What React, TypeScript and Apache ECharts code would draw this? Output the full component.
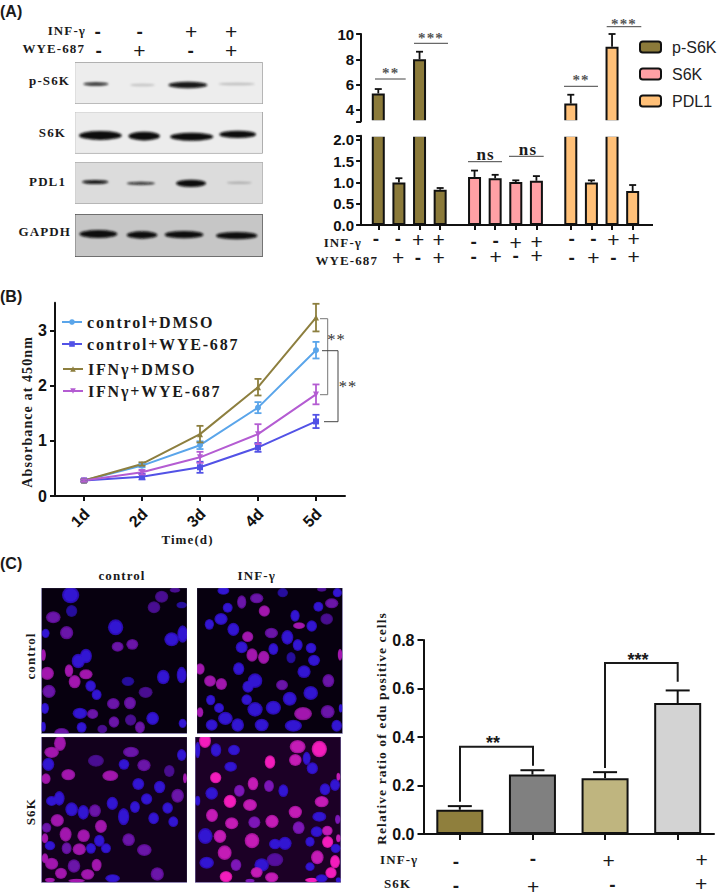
import React, { useEffect, useRef } from "react";
import * as echarts from "echarts";

// ---------- data ----------
const signsInf = ["-", "-", "+", "+"];
const signsWye = ["-", "+", "-", "+"];
const proteins = ["p-S6K", "S6K", "PDL1"];
const pS6K = [5.3, 1.0, 8.0, 0.83];
const pS6KErr = [0.35, 0.1, 0.6, 0.04];
const s6k = [1.13, 1.1, 1.01, 1.04];
const s6kErr = [0.15, 0.08, 0.04, 0.11];
const pdl1 = [4.5, 1.0, 9.0, 0.8];
const pdl1Err = [0.7, 0.05, 1.0, 0.14];

const days = ["1d", "2d", "3d", "4d", "5d"];
const ctrlDmso = [0.28, 0.55, 0.92, 1.6, 2.64];
const ctrlDmsoErr = [0.02, 0.03, 0.07, 0.1, 0.15];
const ctrlWye = [0.28, 0.35, 0.52, 0.88, 1.35];
const ctrlWyeErr = [0.02, 0.05, 0.1, 0.08, 0.12];
const ifnDmso = [0.28, 0.58, 1.12, 1.97, 3.23];
const ifnDmsoErr = [0.02, 0.03, 0.15, 0.15, 0.25];
const ifnWye = [0.28, 0.43, 0.7, 1.12, 1.84];
const ifnWyeErr = [0.02, 0.04, 0.1, 0.18, 0.18];

const eduGroups = ["ctrl", "S6K", "INF", "INF+S6K"];
const eduValues = [0.1, 0.245, 0.23, 0.54];
const eduErr = [0.015, 0.018, 0.025, 0.052];
const eduSignsInf = ["-", "-", "+", "+"];
const eduSignsS6k = ["-", "+", "-", "+"];

// ---------- picture panels (drawn as images; coordinates are in 3x crop pixels) ----------
type Cell = [number, number, number, number, number];
const cellsTL: Cell[] = [[212,135,26,25,1],[215,183,17,18,0],[160,202,22,18,2],[200,248,20,20,2],[137,250,12,14,1],[347,232,23,24,1],[353,290,18,15,2],[397,283,18,16,2],[515,268,22,21,1],[548,252,16,26,1],[462,172,19,18,5],[485,140,20,18,5],[545,165,16,10,0],[525,120,16,8,5],[130,315,8,18,3],[258,318,18,22,1],[235,333,20,22,1],[207,362,13,19,3],[258,373,20,15,3],[224,395,18,20,3],[142,370,20,20,3],[147,424,20,20,2],[272,408,16,17,1],[290,434,15,16,1],[490,381,19,22,1],[384,394,19,14,0],[545,375,15,25,1],[437,427,21,17,5],[340,461,19,17,2],[390,459,18,19,2],[135,475,12,17,1],[240,490,22,17,1],[278,492,17,15,2],[342,516,16,17,2],[392,510,17,17,5],[458,505,19,20,1],[420,532,15,18,2],[245,532,15,16,1],[185,548,22,14,2],[307,537,15,13,5],[130,530,8,15,1],[548,520,12,14,1]];
const cellsTR: Cell[] = [[670,122,18,12,1],[725,156,14,20,2],[770,145,20,15,2],[793,183,17,17,3],[848,128,16,14,0],[683,173,15,15,1],[663,207,20,18,1],[628,223,14,16,1],[700,238,18,20,1],[743,260,17,16,3],[814,249,20,16,2],[897,227,18,10,3],[885,197,14,18,1],[935,228,16,17,1],[980,207,19,17,5],[995,160,20,15,2],[955,170,15,15,1],[1012,128,14,14,1],[965,118,14,7,5],[862,262,18,22,1],[893,285,15,18,1],[725,292,18,18,1],[756,315,17,20,3],[791,322,17,20,3],[820,297,15,18,1],[873,323,14,17,0],[933,294,16,16,1],[942,331,18,17,1],[1020,314,7,18,3],[600,357,14,17,3],[630,393,18,17,3],[664,402,17,18,3],[716,356,17,19,1],[912,365,20,19,1],[985,392,18,20,2],[765,392,22,22,1],[744,410,17,18,1],[846,405,18,16,2],[932,429,22,21,1],[869,446,21,21,1],[632,450,14,16,1],[740,449,16,16,1],[765,478,23,22,1],[820,473,23,21,1],[657,474,15,15,1],[676,505,22,20,1],[713,525,19,20,1],[785,525,21,19,1],[600,487,10,15,3],[635,525,18,17,1],[909,491,27,20,3],[983,485,21,20,2],[880,527,26,18,1],[1010,527,16,18,1],[1022,475,6,13,1]];
const cellsBL: Cell[] = [[155,607,22,17,3],[180,580,18,23,3],[145,643,18,20,1],[288,632,24,18,5],[393,606,24,16,2],[372,643,16,16,1],[432,646,20,18,2],[205,674,21,17,3],[138,686,14,16,3],[331,677,24,16,3],[415,702,18,18,1],[479,711,17,19,1],[508,663,16,18,5],[545,615,14,18,1],[555,685,6,15,3],[533,737,19,21,2],[178,745,16,22,1],[155,753,17,15,1],[440,747,17,17,1],[337,760,17,20,1],[405,771,15,18,1],[503,774,16,17,1],[520,815,15,16,1],[215,778,19,21,1],[250,787,17,22,1],[285,782,18,19,2],[371,800,17,26,1],[461,805,16,18,1],[172,811,20,19,3],[140,833,14,15,2],[197,853,18,22,3],[251,857,19,19,3],[303,829,18,20,3],[135,865,10,15,3],[150,887,16,14,1],[200,895,15,18,2],[238,898,20,18,3],[273,895,15,16,1],[298,872,16,18,1],[318,895,15,15,1],[386,869,19,19,2],[433,900,22,18,2],[155,941,20,18,3],[222,948,19,20,2],[290,945,15,19,3],[183,970,18,17,3],[263,973,20,16,3],[472,972,20,20,2],[338,985,22,12,1],[230,992,25,6,3],[135,925,10,15,3],[150,990,15,7,3]];
const cellsBR: Cell[] = [[615,572,18,22,4],[648,600,16,20,1],[702,600,18,16,1],[593,600,8,25,1],[810,636,16,20,4],[893,590,24,20,3],[886,630,19,18,3],[958,597,23,25,4],[920,625,12,20,1],[937,655,17,18,1],[692,650,19,15,1],[647,683,17,17,4],[635,730,19,19,1],[718,722,16,18,2],[759,701,16,20,3],[807,708,15,18,2],[850,722,15,19,1],[975,718,16,18,1],[1005,705,15,18,1],[1015,680,6,12,3],[690,754,19,20,4],[750,765,21,18,3],[965,755,21,17,3],[593,752,8,15,1],[636,796,18,20,3],[886,786,20,19,3],[695,820,20,18,3],[763,817,18,18,2],[816,814,20,20,3],[958,800,21,15,1],[1013,808,8,14,2],[896,833,18,19,2],[950,845,18,16,1],[982,842,16,15,3],[983,876,17,18,4],[616,858,22,24,1],[660,859,19,20,3],[756,872,22,23,3],[825,882,18,16,1],[855,880,20,20,1],[930,875,14,15,1],[1015,865,7,12,3],[674,908,21,22,3],[825,929,25,20,5],[952,922,19,21,3],[620,938,22,18,1],[708,945,16,18,2],[1005,935,15,20,4],[1007,895,15,14,1],[785,945,22,20,1],[770,967,18,16,3],[815,982,20,15,3],[678,980,19,17,4],[930,950,14,13,1],[993,968,17,17,4],[935,990,20,7,4],[965,985,18,12,1],[750,992,14,6,2],[1015,990,8,8,1]];

type Band = [number, number, number, number, number];
const bandsP: Band[] = [[250,325,252,11,0.85],[390,465,255,8,0.18],[505,622,255,20,0.95],[655,765,252,8,0.2]];
const bandsS: Band[] = [[237,365,406,27,1],[385,480,408,26,1],[510,640,410,24,1],[658,768,403,22,1]];
const bandsL: Band[] = [[246,325,546,12,0.95],[380,465,550,10,0.8],[528,618,550,22,1],[680,755,548,6,0.25]];
const bandsG: Band[] = [[238,352,702,24,1],[380,472,705,22,1],[494,610,704,22,1],[648,772,707,22,1]];

const paletteDim = ["#260e9e", "#3212d2", "#6a12a8", "#a216ae", "#d41ab8", "#4a0f92"];
const paletteBright = ["#260e9e", "#3212d2", "#7d14b8", "#c41ab6", "#f41cbc", "#55109f"];

function svgUrl(svg: string) {
  return "data:image/svg+xml;charset=utf-8," + encodeURIComponent(svg);
}
function cellPanel(cells: Cell[], x: number, y: number, bg: string, palette: string[]) {
  const grads = palette
    .map(
      (c, i) =>
        `<radialGradient id="g${i}"><stop offset="0" stop-color="${c}"/><stop offset="0.7" stop-color="${c}"/><stop offset="1" stop-color="${c}" stop-opacity="0.7"/></radialGradient>`
    )
    .join("");
  const els = cells
    .map(([cx, cy, rx, ry, k]) => `<ellipse cx="${cx}" cy="${cy}" rx="${rx}" ry="${ry}" fill="url(#g${k})"/>`)
    .join("");
  return svgUrl(
    `<svg xmlns="http://www.w3.org/2000/svg" width="146" height="146" viewBox="${x} ${y} 438 438"><defs>${grads}<filter id="b" x="-5%" y="-5%" width="110%" height="110%"><feGaussianBlur stdDeviation="2.2"/></filter></defs><rect x="${x}" y="${y}" width="438" height="438" fill="${bg}"/><g filter="url(#b)">${els}</g><rect x="${x}" y="${y}" width="438" height="438" fill="none" stroke="#9c94d8" stroke-width="2.5"/></svg>`
  );
}
function blot(bands: Band[], y: number, h: number, bg: string, edge: string, ew: number) {
  const els = bands
    .map(
      ([a, b, c, t, o]) =>
        `<ellipse cx="${(a + b) / 2}" cy="${c}" rx="${(b - a) / 2}" ry="${t / 2}" fill="#0a0a0a" opacity="${o}"/>`
    )
    .join("");
  return svgUrl(
    `<svg xmlns="http://www.w3.org/2000/svg" width="188" height="${h / 3}" viewBox="224 ${y} 564 ${h}"><defs><filter id="b" x="-10%" y="-80%" width="120%" height="260%"><feGaussianBlur stdDeviation="2.4"/></filter></defs><rect x="224" y="${y}" width="564" height="${h}" fill="${bg}"/><g filter="url(#b)">${els}</g><rect x="224" y="${y}" width="564" height="${h}" fill="none" stroke="${edge}" stroke-width="${ew}"/></svg>`
  );
}

const serif = "Liberation Serif";
const sans = "Liberation Sans";
const ink = "#1a1a1a";

function txt(text: string, x: number, y: number, o: any = {}) {
  const { rotation, ...rest } = o;
  return {
    type: "text",
    x,
    y,
    rotation,
    z: 20,
    style: {
      text,
      fill: ink,
      fontFamily: serif,
      fontWeight: "bold",
      fontSize: 13,
      textAlign: "center",
      textVerticalAlign: "middle",
      ...rest,
    },
  };
}
function sign(s: string, x: number, y: number) {
  return s === "+"
    ? txt(s, x, y, { fontFamily: sans, fontWeight: "normal", fontSize: 21, lineHeight: 10 })
    : txt(s, x, y, { fontFamily: sans, fontWeight: "bold", fontSize: 19, lineHeight: 6 });
}
function poly(points: number[][], stroke = "#222", lineWidth = 1) {
  return { type: "polyline", z: 20, shape: { points }, style: { stroke, lineWidth, fill: "none" } };
}
function img(image: string, x: number, y: number, width: number, height: number) {
  return { type: "image", x, y, z: 1, style: { image, width, height } };
}

const errBar = (name: string, xi: number, yi: number, rows: number[][], color: string, cap: number, lw: number, both: boolean) => ({
  type: "custom",
  name,
  xAxisIndex: xi,
  yAxisIndex: yi,
  z: 5,
  silent: true,
  encode: { x: 0, y: 1 },
  data: rows,
  renderItem: (_p: any, api: any) => {
    const i = api.value(0);
    const v = api.value(1);
    const e = api.value(2);
    const [x] = api.coord([i, v]);
    const [, yt] = api.coord([i, v + e]);
    const [, yb] = api.coord([i, both ? v - e : v]);
    const s = { stroke: color, lineWidth: lw, fill: "none" };
    const ch: any[] = [
      { type: "line", shape: { x1: x, y1: yb, x2: x, y2: yt }, style: s },
      { type: "line", shape: { x1: x - cap, y1: yt, x2: x + cap, y2: yt }, style: s },
    ];
    if (both) ch.push({ type: "line", shape: { x1: x - cap, y1: yb, x2: x + cap, y2: yb }, style: s });
    return { type: "group", children: ch };
  },
});

export default function App() {
  const ref = useRef<HTMLDivElement>(null);
  useEffect(() => {
    const chart = echarts.init(ref.current!, undefined, { renderer: "svg" });

    // Panel A: slot-based category axis so the groups keep their gaps
    const groups = [pS6K, s6k, pdl1];
    const groupErr = [pS6KErr, s6kErr, pdl1Err];
    const colorsA = ["#8b7a3a", "#ffa0a5", "#ffc078"];
    const slotCount = 42;
    const slotOf = (g: number, b: number) => 2 + g * 14 + b * 3;
    const slots = Array.from({ length: slotCount }, (_, i) => String(i));
    const barSlots = new Set<number>();
    groups.forEach((vals, g) => vals.forEach((_, b) => barSlots.add(slotOf(g, b))));
    const UPPER_MIN = 3.1;
    const LOWER_MAX = 2.1;

    const seriesA: any[] = [];
    groups.forEach((vals, g) => {
      const mk = (xi: number, keep: (v: number) => boolean) => {
        const d = slots.map(() => null as number | null);
        vals.forEach((v, b) => {
          if (keep(v)) d[slotOf(g, b)] = v;
        });
        return {
          type: "bar",
          name: proteins[g],
          xAxisIndex: xi,
          yAxisIndex: xi,
          barWidth: 13,
          barGap: "-100%",
          data: d,
          itemStyle: { color: colorsA[g], borderColor: "#111", borderWidth: 2 },
        };
      };
      seriesA.push(mk(0, (v) => v > UPPER_MIN));
      seriesA.push(mk(1, () => true));
      const rowsU: number[][] = [];
      const rowsL: number[][] = [];
      vals.forEach((v, b) => {
        (v > UPPER_MIN ? rowsU : rowsL).push([slotOf(g, b), v, groupErr[g][b]]);
      });
      seriesA.push(errBar(proteins[g] + " err up", 0, 0, rowsU, "#111", 3.5, 1.8, false));
      seriesA.push(errBar(proteins[g] + " err low", 1, 1, rowsL, "#111", 3.5, 1.8, false));
    });

    // Panel B
    const linesB = [
      { name: "control+DMSO", d: ctrlDmso, e: ctrlDmsoErr, c: "#5aa5ea", sym: "circle", rot: 0 },
      { name: "control+WYE-687", d: ctrlWye, e: ctrlWyeErr, c: "#5252e6", sym: "rect", rot: 0 },
      { name: "IFNγ+DMSO", d: ifnDmso, e: ifnDmsoErr, c: "#8d7f3f", sym: "triangle", rot: 0 },
      { name: "IFNγ+WYE-687", d: ifnWye, e: ifnWyeErr, c: "#b45cd2", sym: "triangle", rot: 180 },
    ];
    const seriesB: any[] = [];
    linesB.forEach((l) => {
      seriesB.push({
        type: "line",
        name: l.name,
        xAxisIndex: 2,
        yAxisIndex: 2,
        data: l.d,
        symbol: l.sym,
        symbolRotate: l.rot,
        symbolSize: 6,
        lineStyle: { color: l.c, width: 2 },
        itemStyle: { color: l.c },
      });
      seriesB.push(errBar(l.name + " err", 2, 2, l.d.map((v, i) => [i, v, l.e[i]]), l.c, 3.5, 1.8, true));
    });
    const legendPos = [
      [61, 314],
      [61, 336],
      [62, 361],
      [62, 383],
    ];

    // Panel C
    const colorsC = ["#8f7f3d", "#808080", "#bfb57f", "#d3d3d3"];

    const graphics: any[] = [
      txt("(A)", 0, 11, { fontFamily: sans, fontSize: 16, textAlign: "left" }),
      txt("(B)", 0, 296, { fontFamily: sans, fontSize: 16, textAlign: "left" }),
      txt("(C)", 0, 563, { fontFamily: sans, fontSize: 16, textAlign: "left" }),

      // blots
      img(blot(bandsP, 187, 125, "#ededed", "#777", 2.5), 74.7, 62.3, 188, 41.7),
      img(blot(bandsS, 335, 125, "#ececec", "#666", 2.5), 74.7, 111.7, 188, 41.7),
      img(blot(bandsL, 486, 125, "#dcdcdc", "#888", 2.5), 74.7, 162, 188, 41.7),
      img(blot(bandsG, 642, 129, "#c6c6c6", "#333", 3.5), 74.7, 214, 188, 43),
      txt("INF-γ", 86, 30, { textAlign: "right" }),
      txt("WYE-687", 85, 48, { textAlign: "right" }),
      txt("p-S6K", 70, 80, { textAlign: "right" }),
      txt("S6K", 66, 132, { textAlign: "right" }),
      txt("PDL1", 66, 181, { textAlign: "right" }),
      txt("GAPDH", 71, 231, { textAlign: "right" }),

      // panel A significance
      poly([[375, 79], [405.7, 79]], "#444"),
      poly([[414, 43.3], [448, 43.3]], "#444"),
      poly([[468, 161.7], [502, 161.7]], "#444"),
      poly([[509, 156.3], [543.7, 156.3]], "#444"),
      poly([[564, 86.3], [598, 86.3]], "#444"),
      poly([[606.7, 26.7], [641.3, 26.7]], "#444"),
      txt("**", 390.7, 73, { fontSize: 15, fill: "#555" }),
      txt("***", 431, 38, { fontSize: 15, fill: "#555" }),
      txt("**", 581, 80, { fontSize: 15, fill: "#555" }),
      txt("***", 624, 24, { fontSize: 15, fill: "#555" }),
      txt("ns", 485.7, 154, { fontSize: 17 }),
      txt("ns", 528, 149, { fontSize: 17 }),
      poly([[650, 225], [653, 225]], "#111", 2),
      // gap of the broken axis
      { type: "rect", z: 15, shape: { x: 365, y: 120.2, width: 285, height: 16.6 }, style: { fill: "#fff" } },
      txt("INF-γ", 362, 242, { textAlign: "right" }),
      txt("WYE-687", 378, 260.5, { textAlign: "right" }),

      // panel B brackets
      poly([[320, 318.7], [327.7, 318.7], [327.7, 394.7], [320, 394.7]], "#777", 1),
      poly([[322, 350.7], [338, 350.7], [338, 421.7], [324, 421.7]], "#444", 1),
      txt("**", 336.5, 339, { fontSize: 16.5, fill: "#333", fontWeight: "normal" }),
      txt("**", 348, 386, { fontSize: 16.5, fill: "#333", fontWeight: "normal" }),

      // panel C images
      img(cellPanel(cellsTL, 124, 113, "#07000f", paletteDim), 41.3, 587.7, 146, 146),
      img(cellPanel(cellsTR, 590, 113, "#07000f", paletteDim), 196.7, 587.7, 146, 146),
      img(cellPanel(cellsBL, 124, 560, "#12001c", paletteDim), 41.3, 736.7, 146, 146),
      img(cellPanel(cellsBR, 585, 560, "#1c0026", paletteBright), 195, 736.7, 146, 146),
      txt("control", 122, 575),
      txt("INF-γ", 256.7, 575),
      txt("control", 30.7, 656, { rotation: Math.PI / 2 }),
      txt("S6K", 30.7, 811.7, { rotation: Math.PI / 2 }),

      // panel C brackets
      poly([[460, 801.7], [460, 746.7], [533, 746.7], [533, 765.7]], "#1a1a1a", 2),
      poly([[605, 768], [605, 663], [677.7, 663], [677.7, 681.7]], "#1a1a1a", 2),
      txt("**", 493, 743, { fontFamily: sans, fontSize: 18 }),
      txt("***", 638, 659.5, { fontFamily: sans, fontSize: 18 }),
      txt("INF-γ", 380, 859, { textAlign: "left" }),
      txt("S6K", 384, 883, { textAlign: "left" }),
    ];

    // sign rows
    const topX = [[97.7, 98.7], [139.7, 139.3], [191, 190.7], [231, 231]];
    signsInf.forEach((s, i) => graphics.push(sign(s, topX[i][0], 31)));
    signsWye.forEach((s, i) => graphics.push(sign(s, topX[i][1], 50)));
    const rightTop = [
      [376, 398, 418, 438.5],
      [473.7, 495.7, 515.7, 536.7],
      [571.7, 593.3, 613.3, 633.7],
    ];
    const rightTopY = [
      [238, 238, 239, 239],
      [241, 240.5, 242, 241],
      [238, 238, 239, 238.5],
    ];
    const rightBotY = [
      [0, 257, 257, 257],
      [256.5, 256.5, 255.5, 255.5],
      [257, 257, 257, 256.5],
    ];
    rightTop.forEach((xs, g) =>
      xs.forEach((x, i) => {
        graphics.push(sign(signsInf[i], x, rightTopY[g][i]));
        if (!(g === 0 && i === 0)) graphics.push(sign(signsWye[i], x, rightBotY[g][i]));
      })
    );
    const eduRow1 = [[456, 861], [533, 858.5], [608.5, 860], [701.7, 859]];
    const eduRow2 = [[456, 885], [533, 886], [612.3, 884], [701, 883]];
    eduSignsInf.forEach((s, i) => graphics.push(sign(s, eduRow1[i][0], eduRow1[i][1])));
    eduSignsS6k.forEach((s, i) => graphics.push(sign(s, eduRow2[i][0], eduRow2[i][1])));

    const tickFont = { fontFamily: sans, fontWeight: "bold" as const, fontSize: 15, color: "#111" };
    const axisLine = { show: true, lineStyle: { color: "#111", width: 2 } };
    const axisTick = { show: true, length: 5, lineStyle: { color: "#111", width: 2 } };

    chart.setOption({
      animation: false,
      backgroundColor: "#fff",
      grid: [
        { left: 361.1, top: 34, width: 288.75, height: 87.3 },
        { left: 361.1, top: 135.7, width: 288.75, height: 89.3 },
        { left: 55, top: 302.7, width: 290, height: 193.3 },
        { left: 423.5, top: 640, width: 290.5, height: 194 },
      ],
      xAxis: [
        { type: "category", gridIndex: 0, data: slots, show: false },
        {
          type: "category",
          gridIndex: 1,
          data: slots,
          axisLine,
          axisTick: { ...axisTick, alignWithLabel: true, interval: (i: number) => barSlots.has(i) },
          axisLabel: { show: false },
        },
        {
          type: "category",
          gridIndex: 2,
          data: days,
          axisLine,
          axisTick: { ...axisTick, alignWithLabel: true },
          axisLabel: { ...tickFont, fontSize: 16, rotate: 45, margin: 18, padding: [0, -4, 0, 0] },
          name: "Time(d)",
          nameLocation: "middle",
          nameGap: 33,
          nameTextStyle: { fontFamily: serif, fontWeight: "bold", fontSize: 13, color: ink, padding: [0, 25, 0, 0] },
        },
        {
          type: "category",
          gridIndex: 3,
          data: eduGroups,
          axisLine,
          axisTick: { ...axisTick, alignWithLabel: true, length: 6 },
          axisLabel: { show: false },
        },
      ],
      yAxis: [
        {
          type: "value",
          gridIndex: 0,
          min: UPPER_MIN,
          max: 10,
          axisLine,
          splitLine: { show: false },
          axisTick: { ...axisTick, customValues: [UPPER_MIN, 4, 6, 8, 10] },
          axisLabel: { ...tickFont, customValues: [4, 6, 8, 10], margin: 7 },
        },
        {
          type: "value",
          gridIndex: 1,
          min: 0,
          max: LOWER_MAX,
          axisLine,
          splitLine: { show: false },
          axisTick: { ...axisTick, customValues: [0, 0.5, 1, 1.5, 2, LOWER_MAX] },
          axisLabel: {
            ...tickFont,
            customValues: [0, 0.5, 1, 1.5, 2],
            margin: 7,
            formatter: (v: number) => v.toFixed(1),
          },
        },
        {
          type: "value",
          gridIndex: 2,
          min: 0,
          max: 3.5,
          axisLine,
          splitLine: { show: false },
          axisTick: { ...axisTick, customValues: [0, 1, 2, 3] },
          axisLabel: { ...tickFont, fontSize: 16, customValues: [0, 1, 2, 3], margin: 8 },
          name: "Absorbance at 450nm",
          nameLocation: "middle",
          nameGap: 17,
          nameTextStyle: { fontFamily: serif, fontWeight: "bold", fontSize: 14, color: ink, padding: [0, 25, 0, 0] },
        },
        {
          type: "value",
          gridIndex: 3,
          min: 0,
          max: 0.8,
          interval: 0.2,
          axisLine,
          splitLine: { show: false },
          axisTick: { ...axisTick, length: 6 },
          axisLabel: { ...tickFont, fontSize: 16, margin: 9, formatter: (v: number) => v.toFixed(1) },
          name: "Relative ratio of edu positive cells",
          nameLocation: "middle",
          nameGap: 34,
          nameTextStyle: { fontFamily: serif, fontWeight: "bold", fontSize: 13.5, color: ink, padding: [0, 0, 0, 17] },
        },
      ],
      legend: [
        {
          data: proteins,
          orient: "vertical",
          left: 639,
          top: 39,
          itemWidth: 21,
          itemHeight: 11,
          itemGap: 11,
          padding: 0,
          textStyle: { fontFamily: sans, fontSize: 16, color: "#222", padding: [0, 0, 0, 6] },
        },
        ...linesB.map((l, i) => ({
          data: [l.name],
          left: legendPos[i][0],
          top: legendPos[i][1],
          padding: 0,
          itemWidth: 20,
          itemHeight: 7,
          textStyle: { fontFamily: serif, fontWeight: "bold", fontSize: 16, color: ink },
        })),
      ],
      series: [
        ...seriesA,
        ...seriesB,
        {
          type: "bar",
          name: "edu",
          xAxisIndex: 3,
          yAxisIndex: 3,
          barWidth: 47,
          data: eduValues.map((v, i) => ({ value: v, itemStyle: { color: colorsC[i] } })),
          itemStyle: { borderColor: "#111", borderWidth: 2 },
        },
        errBar("edu err", 3, 3, eduValues.map((v, i) => [i, v, eduErr[i]]), "#111", 12, 2, false),
      ],
      graphic: graphics,
    });
    return () => chart.dispose();
  }, []);
  return (
    <>
      <style>{`text[style*="Liberation Serif"]{letter-spacing:1.1px}
text[style*="16px"][style*="Liberation Serif"]{letter-spacing:1.8px}`}</style>
      <div ref={ref} style={{ position: "absolute", left: 0, top: 0, width: 720, height: 892 }} />
    </>
  );
}
